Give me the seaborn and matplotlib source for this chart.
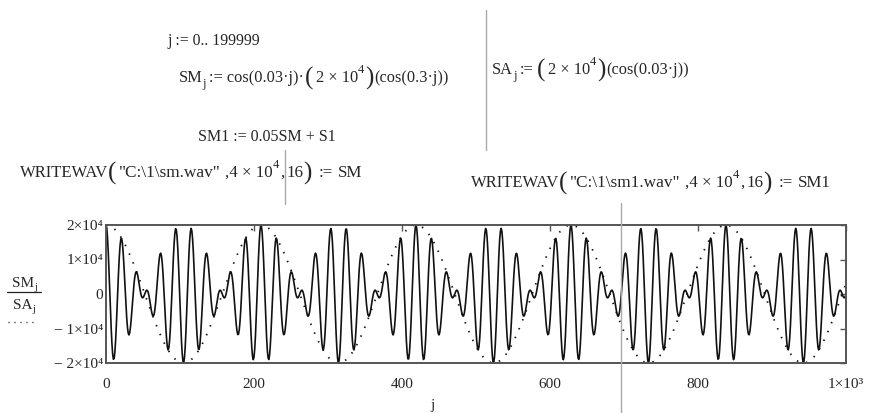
import numpy as np
import pandas as pd
import seaborn as sns
import matplotlib
matplotlib.use('Agg')
import matplotlib.pyplot as plt

# параметры сигнала, как они написаны в листе Mathcad
j_max = 1000          # видимый диапазон оси j
amp = 2e4             # 2 x 10^4
env_k = 0.03          # cos(0.03 j) - огибающая
car_k = 0.3           # cos(0.3 j) - несущая

x_ticks = [0, 200, 400, 600, 800, 1000]
x_labels = ['0', '200', '400', '600', '800', '1×10³']
y_ticks = [-2e4, -1e4, 0, 1e4, 2e4]
y_labels = ['− 2×10⁴', '− 1×10⁴', '0', '1×10⁴', '2×10⁴']

j = np.arange(0, j_max + 1)
SA = amp * np.cos(env_k * j)
SM = np.cos(env_k * j) * amp * np.cos(car_k * j)
df = pd.DataFrame({'j': j, 'SM': SM, 'SA': SA})

sns.set_style('white')
plt.rcParams['font.family'] = ['Liberation Serif', 'DejaVu Serif']

W, H = 869, 413
fig = plt.figure(figsize=(W / 100, H / 100), dpi=100)
ax = fig.add_axes([106 / W, 1 - 363 / H, 740 / W, 138 / H])

sns.lineplot(data=df, x='j', y='SM', ax=ax, color='#111111', lw=1.2)
sns.lineplot(data=df, x='j', y='SA', ax=ax, color='#111111', lw=1.3,
             linestyle=(0, (0.8, 4.5)))

ax.set_xlim(0, j_max)
ax.set_ylim(-2e4, 2e4)
ax.set_xticks(x_ticks)
ax.set_xticklabels(x_labels, fontsize=11)
ax.set_yticks(y_ticks)
ax.set_yticklabels(y_labels, fontsize=11)
ax.tick_params(direction='in', length=4, width=1, color='#555555',
               top=True, right=True)
ax.tick_params(axis='x', pad=11)
ax.tick_params(axis='y', pad=2)
ax.set_xlabel('')
ax.set_ylabel('')
for s in ax.spines.values():
    s.set_color('#555555')
    s.set_linewidth(1.4)

renderer = fig.canvas.get_renderer()
fs = 11.8


def chain(x, y, pieces):
    # кусочки формулы друг за другом: (текст, размер, сдвиг вниз, зазор после)
    for txt, size, dy, gap in pieces:
        t = fig.text(x / W, 1 - (y + dy) / H, txt, fontsize=size, va='baseline')
        bb = t.get_window_extent(renderer)
        x = bb.x1 + gap


sub = lambda s: (s, 9, 5, 3)
sup = lambda s: (s, 9, -9, 1)
lp = ('(', 18, 3, 2)
rp = (')', 18, 3, 1)

# подписи слева: SM_j / SA_j
chain(12, 287, [('SM', 11, 0, 0), ('j', 8, 3, 0)])
fig.add_artist(plt.Line2D([7 / W, 41 / W], [1 - 292 / H] * 2, color='#222222', lw=0.9))
chain(13, 309, [('SA', 11, 0, 0), ('j', 8, 3, 0)])
fig.add_artist(plt.Line2D([8 / W, 34 / W], [1 - 322 / H] * 2, color='#222222', lw=1.0,
                          linestyle=(0, (0.8, 3.5))))
fig.text(433 / W, 1 - 405 / H, 'j', fontsize=11, ha='center', va='center')

# формулы листа
chain(167, 45, [('j := 0.. 199999', 11.3, 0, 0)])
chain(179, 82, [('SM', fs, 0, 0), sub('j'), (':= cos(0.03·j)·', fs, 0, 1), lp,
                ('2 × 10', fs, 0, 0), sup('4'), rp, ('(cos(0.3·j))', fs, 0, 0)])
chain(492, 74, [('SA', fs, 0, 0), sub('j'), (':=', fs, 0, 4), lp,
                ('2 × 10', fs, 0, 0), sup('4'), rp, ('(cos(0.03·j))', fs, 0, 0)])
chain(198, 141, [('SM1 := 0.05SM + S1', 11.5, 0, 0)])
for x0, y0, fname, res in [(20, 177, 'sm.wav', 'SM'), (471, 187, 'sm1.wav', 'SM1')]:
    chain(x0, y0, [('WRITEWAV', 12, 0, 0), lp, ('"C:\\1\\' + fname + '"', 12.4, 0, 5),
                   (',4 × 10', 12.2, 0, 0), sup('4'), (',', 12.2, 0, 2), ('16', 12.2, 0, 0),
                   rp[:3] + (7,), (':=', 12.2, 0, 5), (res, 12.2, 0, 0)])

# серые вертикальные линии-разделители Mathcad
for x0, y0, y1 in [(486, 10, 150), (285, 150, 204), (621, 203, 413)]:
    fig.add_artist(plt.Line2D([x0 / W] * 2, [1 - y0 / H, 1 - y1 / H],
                              color='#aaaaaa', lw=1.0))

fig.savefig('out.png', dpi=100)
